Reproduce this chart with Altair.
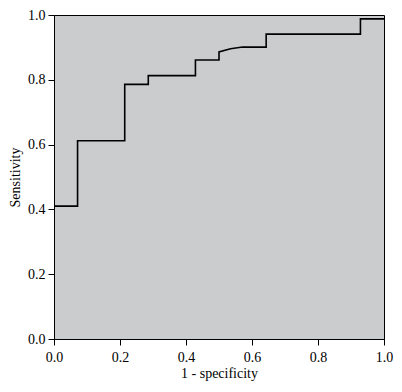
import altair as alt
import pandas as pd

fpr = [0.0, 0.0714, 0.0714, 0.2143, 0.2143, 0.2857, 0.2857, 0.4286, 0.4286,
       0.5, 0.5, 0.535, 0.5714, 0.6429, 0.6429, 0.9286, 0.9286, 1.0]
tpr = [0.41, 0.41, 0.612, 0.612, 0.786, 0.786, 0.813, 0.813, 0.861,
       0.861, 0.886, 0.896, 0.901, 0.901, 0.941, 0.941, 0.988, 0.988]
ticks = [0.0, 0.2, 0.4, 0.6, 0.8, 1.0]

df = pd.DataFrame({"fpr": fpr, "tpr": tpr, "order": list(range(len(fpr)))})

FONT = "Liberation Serif"
FS = 14

common = dict(values=ticks, format=".1f", grid=False, tickSize=6,
              domainColor="black", tickColor="black", labelColor="black",
              titleColor="black", labelFontSize=FS, titleFontSize=FS,
              titleFontWeight="normal", labelFont=FONT, titleFont=FONT,
              labelFlush=False)

chart = alt.Chart(df).mark_line(color="black", strokeWidth=1.6).encode(
    x=alt.X("fpr:Q", scale=alt.Scale(domain=[0, 1], nice=False),
            axis=alt.Axis(title="1 - specificity", labelPadding=5, titlePadding=2,
                          **common)),
    y=alt.Y("tpr:Q", scale=alt.Scale(domain=[0, 1], nice=False),
            axis=alt.Axis(title="Sensitivity", labelPadding=3, titlePadding=5,
                          **common)),
    order="order:Q",
).properties(
    width=330, height=324,
    autosize=alt.AutoSizeParams(type="none"),
    padding={"left": 46, "top": 7, "right": 10, "bottom": 45},
).configure_view(
    fill="#cbcccd", stroke="black", strokeWidth=1
)

chart.save("out.html", embed_options={"renderer": "svg", "actions": False})
